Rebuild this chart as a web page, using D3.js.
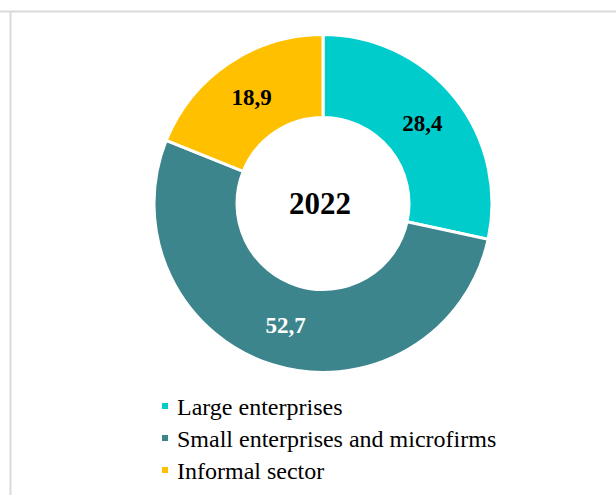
<!DOCTYPE html>
<html>
<head>
<meta charset="utf-8">
<script src="https://cdn.jsdelivr.net/npm/d3@7"></script>
<style>
  html, body { margin: 0; padding: 0; background: #fff; }
  svg { display: block; }
</style>
</head>
<body>
<svg id="chart" width="616" height="495"></svg>
<script>
// Shares of employment by enterprise type, 2022 (%)
const categories = ["Large enterprises", "Small enterprises and microfirms", "Informal sector"];
const values = [28.4, 52.7, 18.9];
const colors = ["#00CCCC", "#3D858C", "#FFC000"];
const labelColors = ["#000000", "#FFFFFF", "#000000"];
const centerTitle = "2022";

const svg = d3.select("#chart");
const W = 616, H = 495;
const cx = 323, cy = 203.5;
const outerR = 169, innerR = 86;

// frame lines
svg.append("line").attr("x1", 0).attr("x2", W).attr("y1", 11.5).attr("y2", 11.5)
  .attr("stroke", "#d9d9d9").attr("stroke-width", 2);
svg.append("line").attr("x1", 10.5).attr("x2", 10.5).attr("y1", 12).attr("y2", H)
  .attr("stroke", "#d9d9d9").attr("stroke-width", 2);

const data = categories.map((c, i) => ({ cat: c, value: values[i], color: colors[i], lc: labelColors[i] }));

const pie = d3.pie().value(d => d.value).sort(null);
const arc = d3.arc().innerRadius(innerR).outerRadius(outerR);
const labelArc = d3.arc().innerRadius((innerR + outerR) / 2).outerRadius((innerR + outerR) / 2);

const g = svg.append("g").attr("transform", `translate(${cx},${cy})`);
const arcs = pie(data);

g.selectAll("path.slice").data(arcs).join("path")
  .attr("class", "slice")
  .attr("d", arc)
  .attr("fill", d => d.data.color)
  .attr("stroke", "#fff")
  .attr("stroke-width", 3);

const fmt = v => v.toFixed(1).replace(".", ",");

g.selectAll("text.val").data(arcs).join("text")
  .attr("class", "val")
  .attr("transform", d => `translate(${labelArc.centroid(d)})`)
  .attr("text-anchor", "middle")
  .attr("dominant-baseline", "central")
  .attr("font-family", "'Liberation Serif', 'Times New Roman', serif")
  .attr("font-weight", "bold")
  .attr("font-size", 23)
  .attr("fill", d => d.data.lc)
  .text(d => fmt(d.data.value));

g.append("text")
  .attr("x", -3)
  .attr("text-anchor", "middle")
  .attr("dominant-baseline", "central")
  .attr("font-family", "'Liberation Serif', 'Times New Roman', serif")
  .attr("font-weight", "bold")
  .attr("font-size", 31)
  .attr("fill", "#000")
  .text(centerTitle);

// legend
const legend = svg.append("g").attr("transform", "translate(162,0)");
const rows = legend.selectAll("g").data(data).join("g")
  .attr("transform", (d, i) => `translate(0,${415 + i * 32})`);
rows.append("rect").attr("x", 0).attr("y", -12).attr("width", 6).attr("height", 6)
  .attr("fill", d => d.color);
rows.append("text").attr("x", 15).attr("y", 0)
  .attr("font-family", "'Liberation Serif', 'Times New Roman', serif")
  .attr("font-size", 24)
  .attr("fill", "#000")
  .text(d => d.cat);
</script>
</body>
</html>
